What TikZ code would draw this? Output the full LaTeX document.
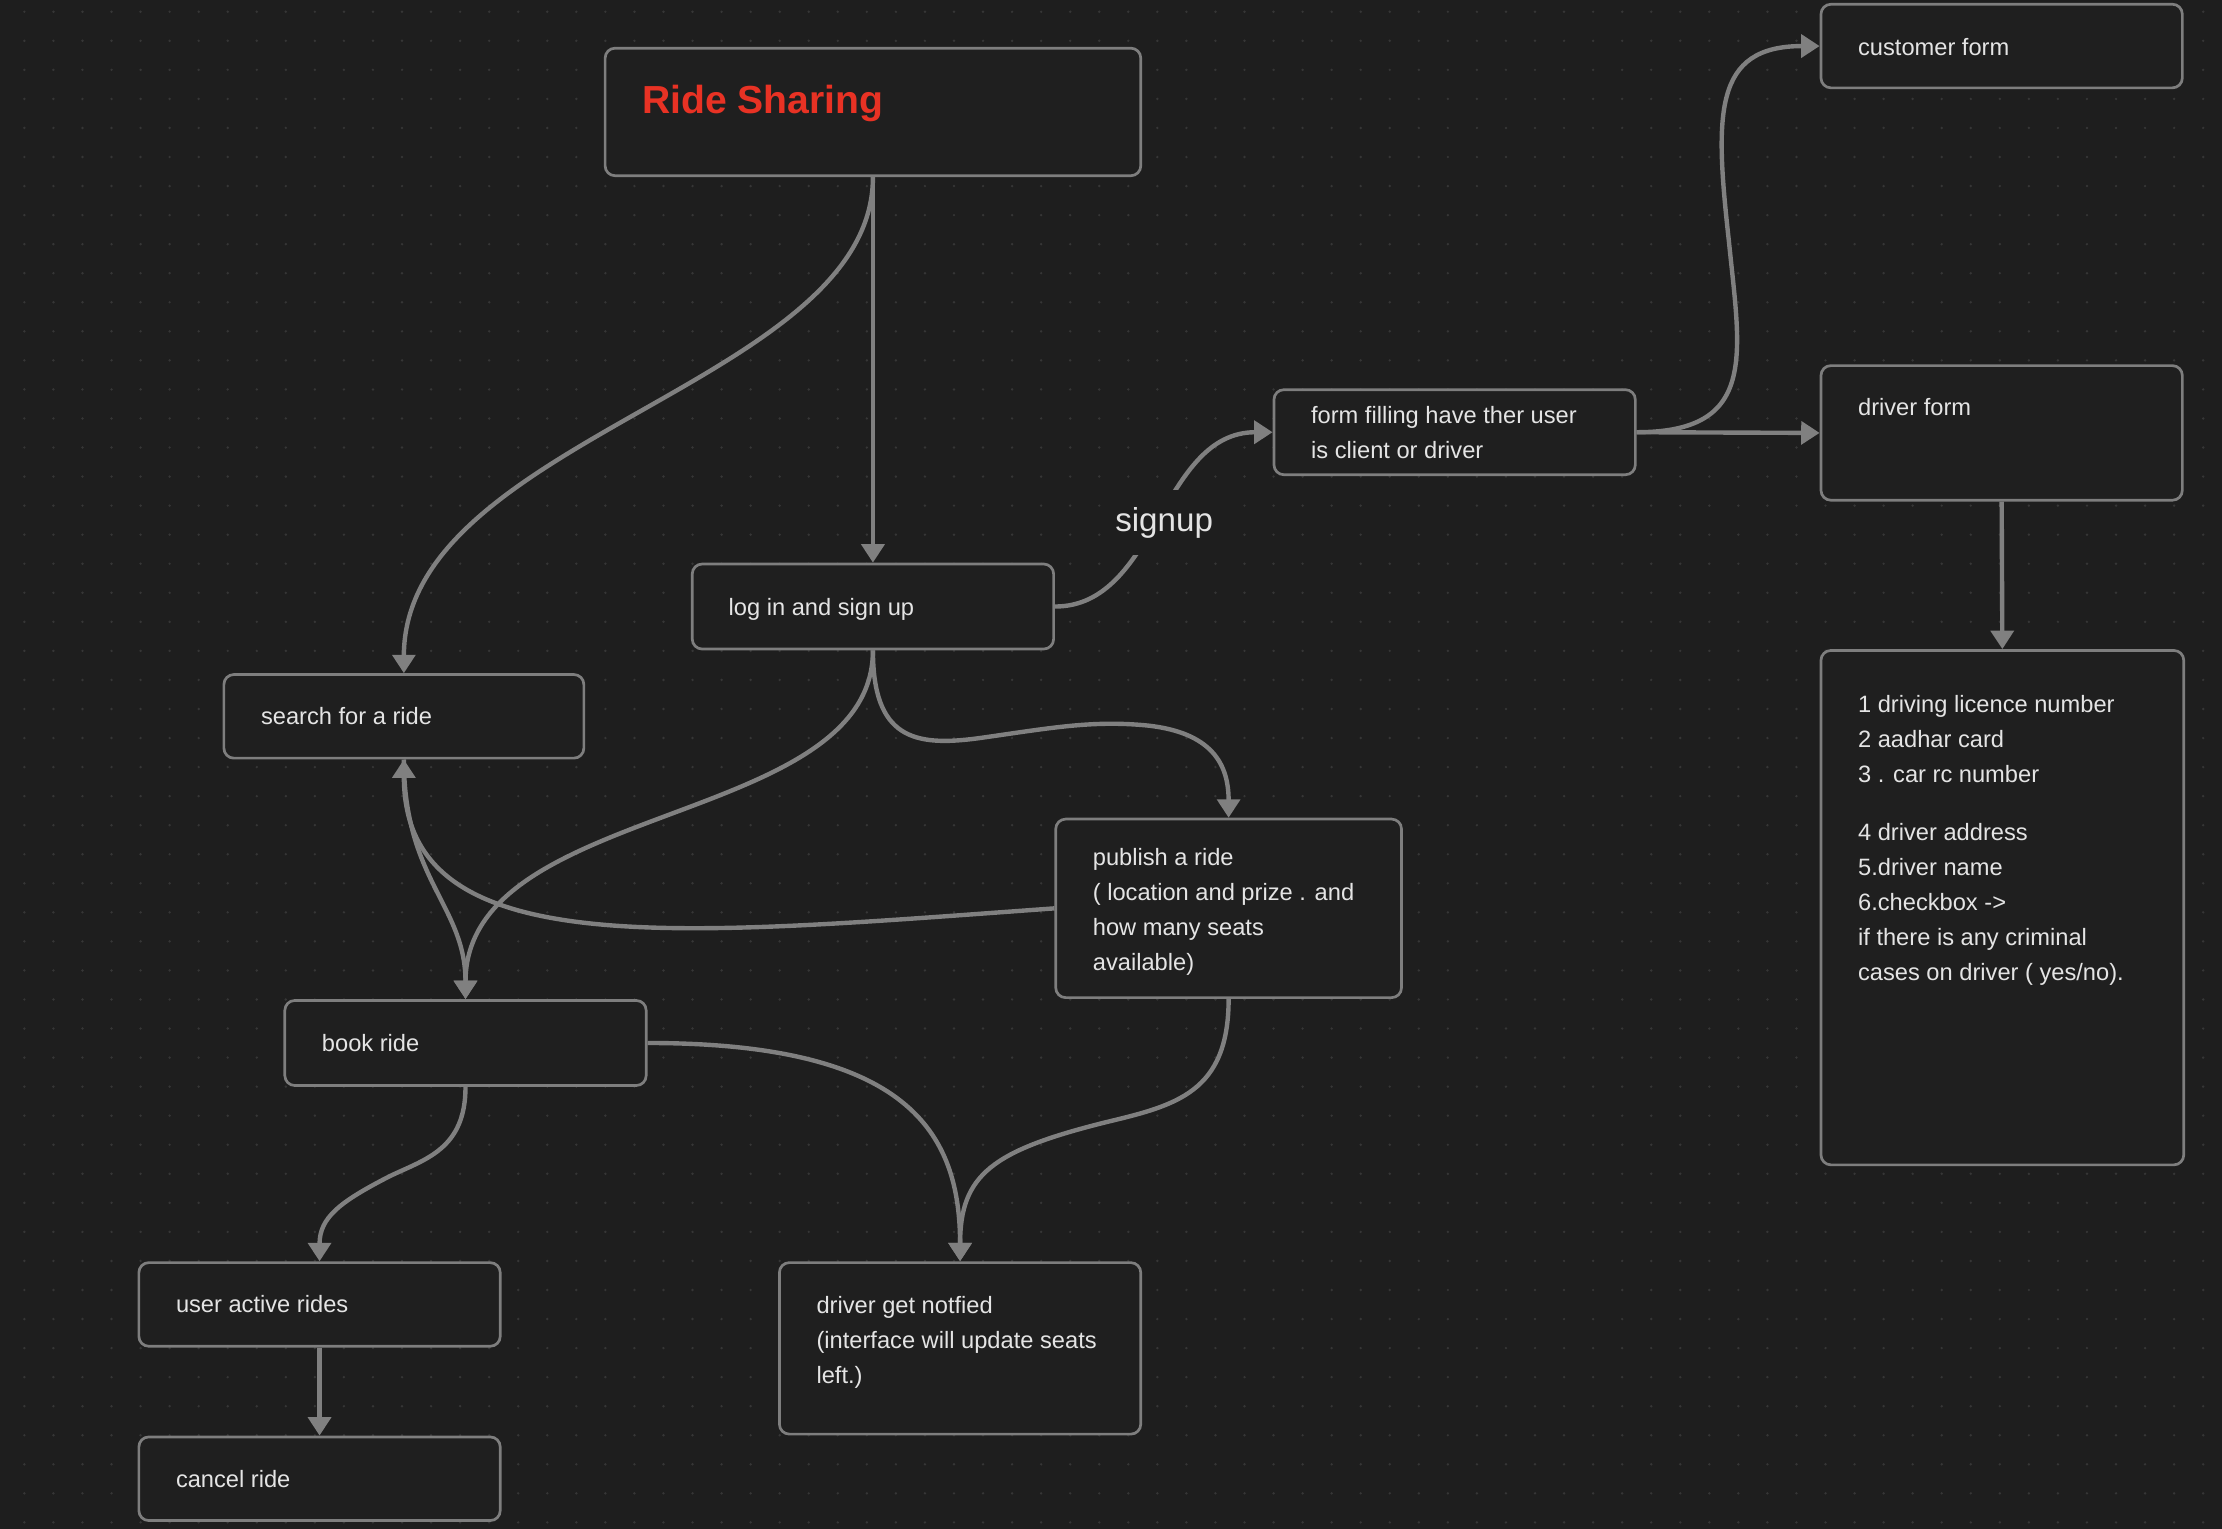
\documentclass[tikz,border=0pt]{standalone}
\usepackage{fontspec}
\setmainfont{Liberation Sans}
\usetikzlibrary{arrows.meta}
\definecolor{bgc}{RGB}{30,30,30}
\definecolor{boxfill}{RGB}{31,31,31}
\definecolor{edgec}{RGB}{126,126,126}
\definecolor{linec}{RGB}{128,128,128}
\definecolor{txtc}{RGB}{228,228,228}
\definecolor{titlec}{RGB}{232,50,36}
\definecolor{dotc}{RGB}{54,54,54}
\newcommand\bfnt{\fontsize{16.7}{24.7}\selectfont}
\begin{document}
\begin{tikzpicture}[x=1pt,y=-1pt,
  box/.style={draw=edgec, line width=1.9pt, fill=boxfill, rounded corners=7pt, inner sep=0pt, minimum width=255pt, minimum height=60pt},
  txt/.style={anchor=base west, inner sep=0pt, text=txtc, font=\bfnt},
  conn/.style={draw=linec, line width=3.1pt, -{Triangle[length=13pt,width=16pt]}},
  lbl/.style={fill=bgc, text=txtc, inner xsep=3pt, inner ysep=12pt, anchor=base, font=\fontsize{23.4}{26}\selectfont}]
\useasboundingbox (0,0) rectangle (1568,1078.3);
\fill[bgc] (-6,-6) rectangle (1574,1084.3);
\foreach \i in {0,...,76}{
  \foreach \j in {0,...,52}{
    \fill[dotc] ({17.2+\i*20.5},{8.3+\j*20.5}) circle[radius=0.95pt];
  }
}
% boxes
\node[box, minimum width=378pt, minimum height=90pt] (title) at (616,79) {};
\node[box] (login) at (616,428) {};
\node[box, minimum width=254pt, minimum height=59pt] (search) at (285,505.5) {};
\node[box, minimum width=244pt, minimum height=126pt] (publish) at (867,641) {};
\node[box] (book) at (328.5,736) {};
\node[box, minimum height=59pt] (uar) at (225.5,920.5) {};
\node[box, minimum height=59pt] (cancel) at (225.5,1043.5) {};
\node[box, minimum height=121pt] (notify) at (677.5,951.5) {};
\node[box] (formfill) at (1026.5,305) {};
\node[box, minimum height=59pt] (custf) at (1412.5,32.5) {};
\node[box, minimum height=95pt] (drvf) at (1412.5,305.5) {};
\node[box, minimum width=256pt, minimum height=363pt] (details) at (1413,640.5) {};
% texts
\node[anchor=base west, inner sep=0pt, text=titlec, font=\fontsize{27.6}{30}\selectfont\bfseries] (title-t) at (453,80) {Ride Sharing};
\node[txt] (login-t) at (514,434) {log in and sign up};
\node[txt] (search-t) at (184,511.5) {search for a ride};
\node[txt] (publish-t) at (771,611) {\parbox[t]{230pt}{publish a ride\\( location and prize . and\\how many seats\\available)}};
\node[txt] (book-t) at (227,742) {book ride};
\node[txt] (uar-t) at (124,926.5) {user active rides};
\node[txt] (cancel-t) at (124,1049.5) {cancel ride};
\node[txt] (notify-t) at (576,927) {\parbox[t]{230pt}{driver get notfied\\(interface will update seats\\left.)}};
\node[txt] (form-t) at (925,299) {\parbox[t]{230pt}{form filling have ther user\\is client or driver}};
\node[txt] (custf-t) at (1311,39.5) {customer form};
\node[txt] (drvf-t) at (1311,293.5) {driver form};
\node[txt] (details-t) at (1311,503) {\parbox[t]{230pt}{1 driving licence number\\2 aadhar card\\3 . car rc number\\[16pt]4 driver address\\5.driver name\\6.checkbox ->\\if there is any criminal\\cases on driver ( yes/no).}};
% connectors
\draw[conn] (title.south) .. controls +(0,146) and +(0,-166) .. (search.north);
\draw[conn] (title.south) -- (login.north);
\draw[conn] (login.east) .. controls +(72,0) and +(-79,0) .. (formfill.west);
\node[lbl] (signup) at (821.5,375) {signup};
\draw[conn] (login.south) .. controls +(0,125) and +(0,-140) .. (book.north);
\draw[conn] (login.south) .. controls +(0,62) and +(-45,6) .. (690,521) .. controls +(50,-7) and +(-40,-4) .. (810,512) .. controls +(45,5) and +(0,-38) .. (publish.north);
\draw[conn] (publish.west) .. controls +(-265,19) and +(0,145) .. (search.south);
\draw[conn] (search.south) .. controls +(0,85) and +(0,-66) .. (book.north);
\draw[conn] (book.south) .. controls +(0,44) and +(25,-12) .. (275,830) .. controls +(-35,18) and +(0,-31) .. (uar.north);
\draw[conn] (book.east) .. controls +(184,0) and +(0,-91) .. (notify.north);
\draw[conn] (publish.south) .. controls +(0,66) and +(50,-12) .. (780,792) .. controls +(-80,20) and +(0,-61) .. (notify.north);
\draw[conn] (uar.south) -- (cancel.north);
\draw[conn] (formfill.east) .. controls +(86,0) and +(8,80) .. (1220,170) .. controls +(-10,-90) and +(-75,0) .. (custf.west);
\draw[conn] (formfill.east) -- (drvf.west);
\draw[conn] (drvf.south) -- (details.north);
\end{tikzpicture}
\end{document}
